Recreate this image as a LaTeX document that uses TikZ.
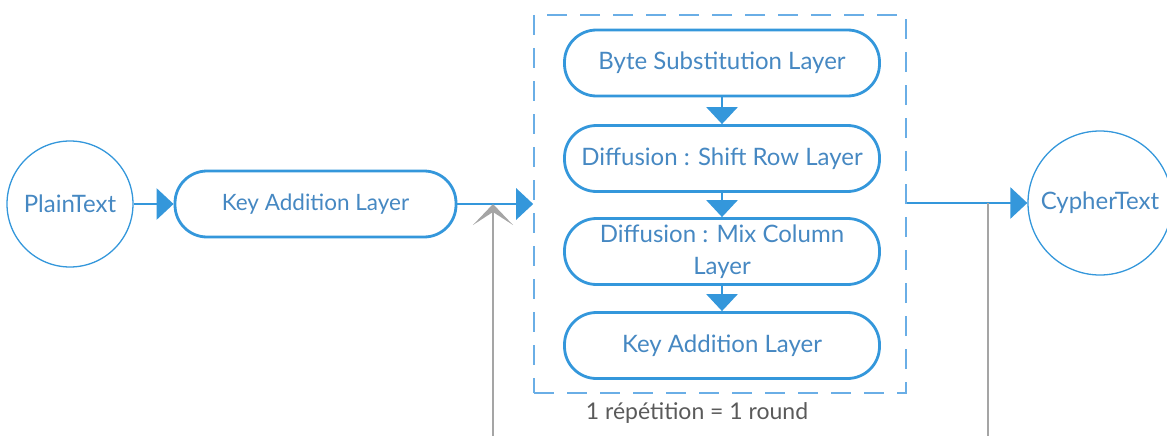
\documentclass[tikz,border=0pt]{standalone}
\usepackage{fontspec}
\setmainfont{Lato}
\usetikzlibrary{arrows.meta}
\definecolor{lineblue}{HTML}{3497DB}
\definecolor{textblue}{HTML}{4688C2}
\definecolor{dashblue}{HTML}{6AAEE6}
\definecolor{feedgray}{HTML}{A5A5A5}
\definecolor{notegray}{HTML}{5A5A5A}
\tikzset{
  layer/.style={draw=lineblue, line width=2.8pt, rounded corners=32pt,
    minimum width=315pt, minimum height=66pt, text=textblue,
    font=\fontsize{24}{32}\selectfont, align=center, inner sep=0pt},
  endpoint/.style={draw=lineblue, line width=1.3pt, circle, text=textblue,
    font=\fontsize{24}{28}\selectfont, inner sep=0pt},
  flow/.style={draw=lineblue, line width=2.8pt,
    -{Triangle[length=17pt,width=31pt]}},
  feedback/.style={draw=feedgray, line width=2.4pt},
}
\begin{document}
\begin{tikzpicture}[x=1pt, y=-1pt]
\useasboundingbox (0,0) rectangle (1167,436);

% input / output
\node[endpoint, minimum size=126pt] (plain) at (70,204) {PlainText};
\node[endpoint, minimum size=144pt] (cypher) at (1100,203) {CypherText};

% initial key addition
\node[layer, minimum width=281pt, font=\fontsize{22.5}{28}\selectfont]
  (key1) at (315.5,204) {Key Addition Layer};

% one round
\node[draw=dashblue, line width=1.6pt, dash pattern=on 20pt off 13pt,
  minimum width=372pt, minimum height=378pt, inner sep=0pt] (rnd) at (720,204) {};
\node[layer] (byte)  at (722,63)    {Byte Substitution Layer};
\node[layer] (shift) at (722,158.5) {Diffusion : Shift Row Layer};
\node[layer] (mix)   at (722,251.5) {Diffusion : Mix Column\\Layer};
\node[layer] (key2)  at (722,345.5) {Key Addition Layer};
\node[text=notegray, font=\fontsize{23}{28}\selectfont] (note) at (697,413)
  {1 répétition = 1 round};

% main flow
\draw[flow] (plain) -- (key1);
\draw[flow] (key1.east) -- (rnd.west);
\draw[flow] (byte) -- (shift);
\draw[flow] (shift) -- (mix);
\draw[flow] (mix) -- (key2);
\draw[flow] (rnd.east |- cypher.west) -- (cypher.west);

% repetition loop
\coordinate (loopin) at (493,436);
\coordinate (loopout) at (988,436);
\draw[feedback, -{Stealth[length=21pt,width=40pt,inset=13pt]}]
  (loopin) -- (loopin |- key1.east);
\draw[feedback] (loopout) -- (loopout |- cypher.west);
\end{tikzpicture}
\end{document}
